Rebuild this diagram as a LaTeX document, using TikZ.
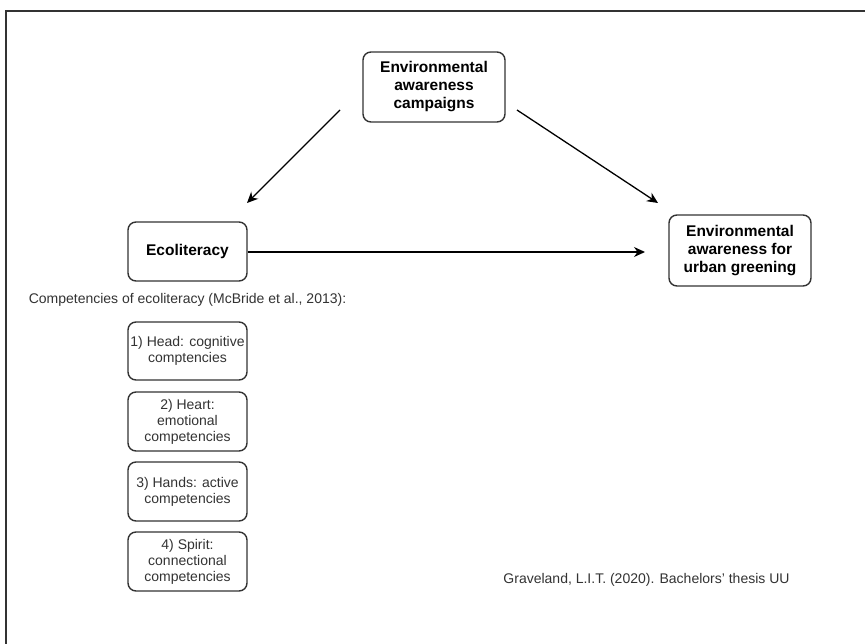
\documentclass[tikz,border=0pt]{standalone}
\usepackage{fontspec}
\setmainfont{Liberation Sans}
\usetikzlibrary{arrows.meta}
\definecolor{boxline}{HTML}{333333}
\definecolor{txt}{HTML}{333333}
\tikzset{
  mainbox/.style={draw=boxline, line width=1.4pt, rounded corners=8pt, fill=white,
    align=center, inner sep=0pt, font=\fontsize{15.5}{18}\selectfont\bfseries, text=black},
  compbox/.style={draw=boxline, line width=1.4pt, rounded corners=8pt, fill=white,
    minimum width=119pt, align=center, inner sep=0pt, font=\fontsize{14}{16}\selectfont, text=txt},
  plain/.style={inner sep=0pt, font=\fontsize{14}{16}\selectfont, text=txt},
  arr/.style={draw=black, line width=1.3pt, -{Stealth[length=11pt,width=10pt]}}
}
\begin{document}
\begin{tikzpicture}[x=1pt,y=-1pt]
\useasboundingbox (0,0) rectangle (865,644);
\fill[white] (0,0) rectangle (865,644);
\draw[boxline, line width=1.5pt] (6,644) -- (6,11) -- (865,11);

\node[mainbox, minimum width=142pt, minimum height=70pt] (camp) at (434,87) {Environmental\\awareness\\campaigns};
\node[mainbox, minimum width=119pt, minimum height=59pt] (eco) at (187.5,251.5) {Ecoliteracy};
\node[mainbox, minimum width=142pt, minimum height=71pt] (urban) at (740,250.5) {Environmental\\awareness for\\urban greening};

\coordinate (a1s) at (340,110);
\coordinate (a1e) at (247,203);
\coordinate (a2s) at (517,110);
\coordinate (a2e) at (658,203);
\coordinate (a3e) at (645,252);
\draw[arr] (a1s) -- (a1e);
\draw[arr] (a2s) -- (a2e);
\draw[arr] (eco.east |- 0,252) -- (a3e);

\node[plain] (comp) at (187.5,300) {Competencies of ecoliteracy (McBride et al., 2013):};

\node[compbox, minimum height=58pt] (c1) at (187.5,351) {1) Head: cognitive\\comptencies};
\node[compbox, minimum height=59pt] (c2) at (187.5,421.5) {2) Heart:\\emotional\\competencies};
\node[compbox, minimum height=59pt] (c3) at (187.5,491.5) {3) Hands: active\\competencies};
\node[compbox, minimum height=59pt] (c4) at (187.5,561.5) {4) Spirit:\\connectional\\competencies};

\node[plain] (cite) at (646.5,580) {Graveland, L.I.T. (2020). Bachelors' thesis UU};
\end{tikzpicture}
\end{document}
